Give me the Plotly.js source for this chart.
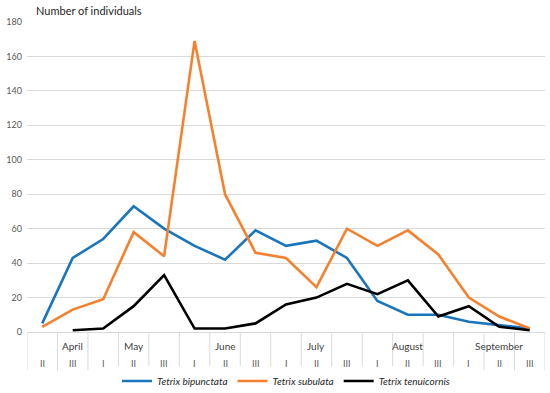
<!DOCTYPE html>
<html>
<head>
<meta charset="utf-8">
<script src="https://cdn.plot.ly/plotly-3.0.1.min.js"></script>
<style>html,body{margin:0;padding:0;background:#fff;}#chart{width:550px;height:393px;}</style>
</head>
<body>
<div id="chart"></div>
<script>
var decades = ["II","III","I","II","III","I","II","III","I","II","III","I","II","III","I","II","III"];
var months = ["April","May","June","July","August","September"];
var monthCenterIndex = [1,3,6,9,12,15];
var bipunctata = [5,43,54,73,60,50,42,59,50,53,43,18,10,10,6,4,2];
var subulata = [3,13,19,58,44,169,80,46,43,26,60,50,59,45,20,9,2];
var tenuicornis = [null,1,2,15,33,2,2,5,16,20,28,22,30,9,15,3,1];
var seriesNames = ["Tetrix bipunctata","Tetrix subulata","Tetrix tenuicornis"];
var seriesColors = ["#1B75BB","#F5812F","#000000"];
var yTicks = [0,20,40,60,80,100,120,140,160,180];

var idx = decades.map(function(_, i){ return i; });
var allSeries = [bipunctata, subulata, tenuicornis];
var traces = allSeries.map(function(s, k){
  return {x: idx, y: s, type: 'scatter', mode: 'lines', name: seriesNames[k],
    line: {color: seriesColors[k], width: 2.6}, connectgaps: false};
});

var font = "Lato, 'Open Sans', sans-serif";
var annotations = [];
decades.forEach(function(d, i){
  annotations.push({x: i, y: -0.1, xref: 'x', yref: 'paper', text: d, showarrow: false,
    font: {family: font, size: 9, color: '#595959'}, xanchor: 'center', yanchor: 'middle'});
});
months.forEach(function(m, j){
  annotations.push({x: monthCenterIndex[j], y: -0.045, xref: 'x', yref: 'paper', text: m, showarrow: false,
    font: {family: font, size: 10, color: '#404040'}, xanchor: 'center', yanchor: 'middle'});
});
annotations.push({x: 0.013, y: 1.036, xref: 'paper', yref: 'paper', text: 'Number of individuals', showarrow: false,
  font: {family: font, size: 11, color: '#262626'}, xanchor: 'left', yanchor: 'middle'});

var shapes = [];
for (var i = 0; i <= decades.length; i++) {
  shapes.push({type: 'line', xref: 'x', yref: 'paper', x0: i - 0.5, x1: i - 0.5, y0: 0, y1: -0.123,
    line: {color: '#d9d9d9', width: 1}});
}

var layout = {
  width: 550, height: 393,
  margin: {l: 27, r: 5, t: 22, b: 61, autoexpand: false},
  paper_bgcolor: '#fff', plot_bgcolor: '#fff',
  showlegend: true,
  legend: {orientation: 'h', x: 0.5, xanchor: 'center', y: -0.158, yanchor: 'middle',
    font: {family: font, size: 10, color: '#262626', style: 'italic'}, itemwidth: 30, tracegroupgap: 0},
  xaxis: {range: [-0.5, decades.length - 0.5], showticklabels: false, showgrid: false, zeroline: false,
    showline: false, ticks: '', automargin: false},
  yaxis: {range: [0, 180], tickvals: yTicks, ticktext: yTicks.map(String), showgrid: true, gridcolor: '#d9d9d9',
    gridwidth: 1, zeroline: true, zerolinecolor: '#d9d9d9', zerolinewidth: 1, showline: false, ticks: '',
    tickfont: {family: font, size: 9, color: '#595959'}, ticklabelstandoff: 4, automargin: false},
  annotations: annotations,
  shapes: shapes
};

Plotly.newPlot('chart', traces, layout, {displayModeBar: false, staticPlot: true});
</script>
</body>
</html>
